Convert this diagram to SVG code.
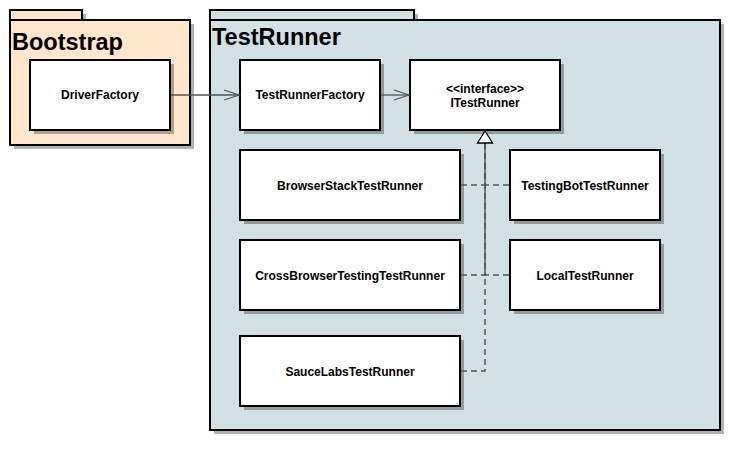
<svg xmlns="http://www.w3.org/2000/svg" width="742" height="451" viewBox="0 0 742 451">
<style>
.shadow{fill:#000;fill-opacity:0.3}
.pkg{stroke:#000;stroke-width:2}
.node{fill:#fff;stroke:#000;stroke-width:2}
.lbl{font-family:"Liberation Sans",Arial,sans-serif;font-weight:bold;font-size:12px;fill:#000;text-anchor:middle}
.title{font-family:"Liberation Sans",Arial,sans-serif;font-weight:bold;font-size:23.5px;fill:#000}
.dep{fill:none;stroke:#555;stroke-width:1.3}
.real{fill:none;stroke:#555;stroke-width:1.5;stroke-dasharray:6,4}
</style>
<defs>
<marker id="open" markerWidth="18" markerHeight="14" refX="16" refY="7" orient="auto" markerUnits="userSpaceOnUse">
<path d="M1,2 L16,7 L1,12" fill="none" stroke="#555" stroke-width="1.3"/>
</marker>
<marker id="tri" markerWidth="18" markerHeight="14" refX="13" refY="7.5" orient="auto" markerUnits="userSpaceOnUse">
<path d="M1,0 L13,7.5 L1,15 Z" fill="#fff" stroke="#000" stroke-width="1.3"/>
</marker>
</defs>
<rect width="742" height="451" fill="#fff"/>

<g id="Bootstrap">
<rect class="shadow" x="14" y="14" width="72" height="10"/>
<rect class="shadow" x="14" y="24" width="180" height="125"/>
<rect class="pkg" x="10" y="10" width="72" height="10" fill="#ffe6cc"/>
<rect class="pkg" x="10" y="20" width="180" height="125" fill="#ffe6cc"/>
<text class="title" x="12" y="50">Bootstrap</text>
</g>

<g id="TestRunner">
<rect class="shadow" x="214" y="14" width="204" height="10"/>
<rect class="shadow" x="214" y="24" width="510" height="410"/>
<rect class="pkg" x="210" y="10" width="204" height="10" fill="#d2e0e4"/>
<rect class="pkg" x="210" y="20" width="510" height="410" fill="#d2e0e4"/>
<text class="title" x="212" y="45">TestRunner</text>
</g>

<g id="DriverFactory">
<rect class="shadow" x="34" y="64" width="140" height="70"/>
<rect class="node" x="30" y="60" width="140" height="70"/>
<text class="lbl" x="100" y="99">DriverFactory</text>
</g>

<g id="TestRunnerFactory">
<rect class="shadow" x="244" y="64" width="140" height="70"/>
<rect class="node" x="240" y="60" width="140" height="70"/>
<text class="lbl" x="310" y="99">TestRunnerFactory</text>
</g>

<g id="ITestRunner">
<rect class="shadow" x="414" y="64" width="150" height="70"/>
<rect class="node" x="410" y="60" width="150" height="70"/>
<text class="lbl" x="485" y="93">&lt;&lt;interface&gt;&gt;</text>
<text class="lbl" x="485" y="107">ITestRunner</text>
</g>

<g id="BrowserStackTestRunner">
<rect class="shadow" x="244" y="154" width="220" height="70"/>
<rect class="node" x="240" y="150" width="220" height="70"/>
<text class="lbl" x="350" y="190">BrowserStackTestRunner</text>
</g>

<g id="TestingBotTestRunner">
<rect class="shadow" x="514" y="154" width="150" height="70"/>
<rect class="node" x="510" y="150" width="150" height="70"/>
<text class="lbl" x="585" y="190">TestingBotTestRunner</text>
</g>

<g id="CrossBrowserTestingTestRunner">
<rect class="shadow" x="244" y="244" width="220" height="70"/>
<rect class="node" x="240" y="240" width="220" height="70"/>
<text class="lbl" x="350" y="280">CrossBrowserTestingTestRunner</text>
</g>

<g id="LocalTestRunner">
<rect class="shadow" x="514" y="244" width="150" height="70"/>
<rect class="node" x="510" y="240" width="150" height="70"/>
<text class="lbl" x="585" y="280">LocalTestRunner</text>
</g>

<g id="SauceLabsTestRunner">
<rect class="shadow" x="244" y="340" width="220" height="70"/>
<rect class="node" x="240" y="336" width="220" height="70"/>
<text class="lbl" x="350" y="376">SauceLabsTestRunner</text>
</g>

<g id="connectors">
<path class="dep" d="M171,95 L239,95" marker-end="url(#open)"/>
<path class="dep" d="M381,95 L409,95" marker-end="url(#open)"/>
<path class="real" d="M461,185 L485,185 L485,143"/>
<path class="real" d="M509,185 L485,185 L485,143"/>
<path class="real" d="M461,275 L485,275 L485,143"/>
<path class="real" d="M509,275 L485,275 L485,143"/>
<path class="real" d="M461,371 L485,371 L485,143"/>
<path d="M485,131 L477.5,143 L492.5,143 Z" fill="#fff" stroke="#000" stroke-width="1.3"/>
</g>
</svg>
